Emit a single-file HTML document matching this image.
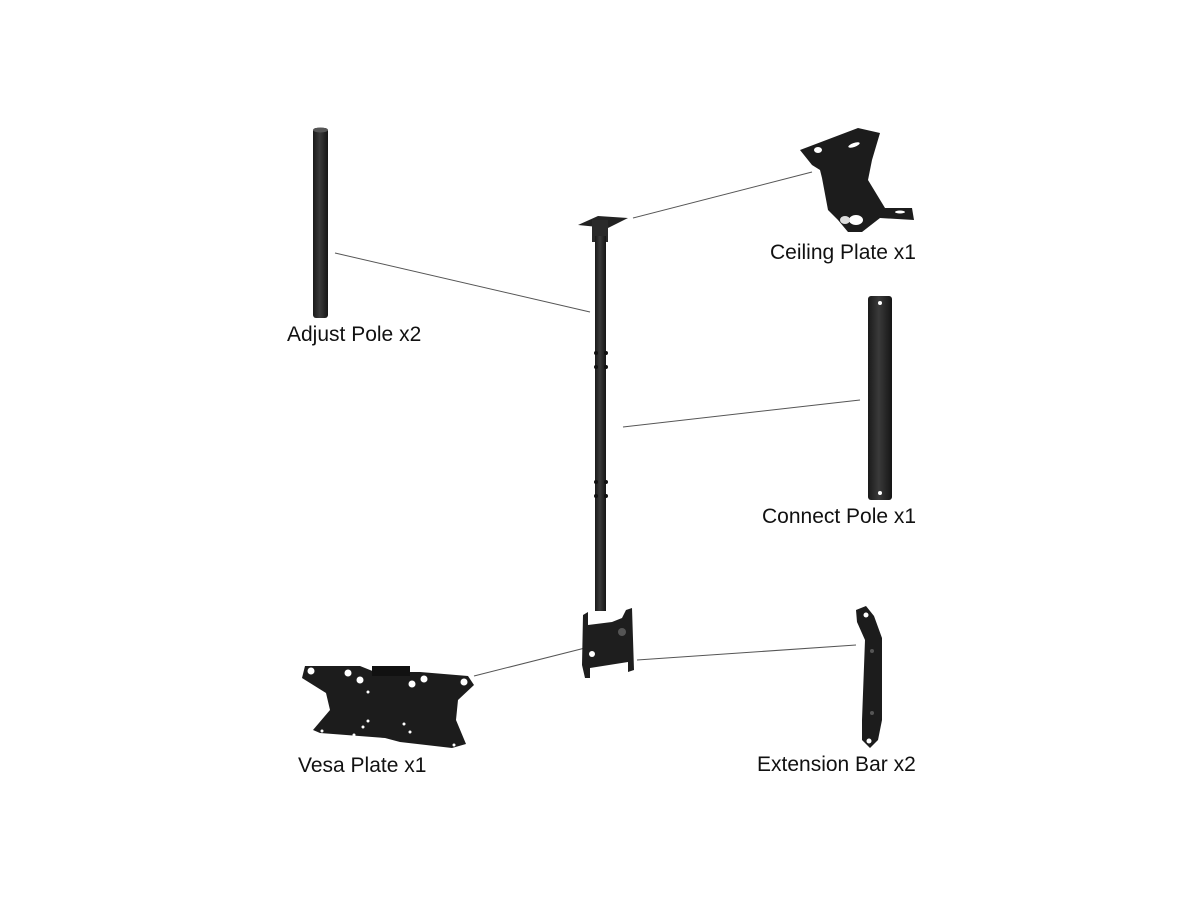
<!DOCTYPE html>
<html><head><meta charset="utf-8"><style>
html,body{margin:0;padding:0;background:#fff;}
svg{display:block;}
text{font-family:"Liberation Sans",sans-serif;font-size:21px;fill:#111;}
</style></head><body>
<svg width="1200" height="900" viewBox="0 0 1200 900" xmlns="http://www.w3.org/2000/svg">
<defs>
<linearGradient id="pg" x1="0" x2="1" y1="0" y2="0">
<stop offset="0" stop-color="#1a1a1a"/><stop offset="0.45" stop-color="#3a3a3a"/><stop offset="1" stop-color="#151515"/>
</linearGradient>
</defs>
<g stroke="#555" stroke-width="1" fill="none">
<line x1="335" y1="253" x2="590" y2="312"/>
<line x1="633" y1="218" x2="812" y2="172"/>
<line x1="623" y1="427" x2="860" y2="400"/>
<line x1="474" y1="676" x2="585" y2="648"/>
<line x1="637" y1="660" x2="856" y2="645"/>
</g>
<rect x="313" y="128" width="15" height="190" rx="3" fill="url(#pg)"/>
<ellipse cx="320.5" cy="130" rx="7.5" ry="2.5" fill="#555"/>
<polygon points="578,225 598,216 628,218 608,228" fill="#222"/>
<rect x="592" y="220" width="16" height="22" fill="#2a2a2a"/>
<rect x="595" y="236" width="11" height="375" fill="url(#pg)"/>
<g fill="#111">
<circle cx="596" cy="353" r="2"/><circle cx="606" cy="353" r="2"/>
<circle cx="596" cy="367" r="2"/><circle cx="606" cy="367" r="2"/>
<circle cx="596" cy="482" r="2"/><circle cx="606" cy="482" r="2"/>
<circle cx="596" cy="496" r="2"/><circle cx="606" cy="496" r="2"/>
</g>
<polygon points="583,615 588,612 588,625 612,622 622,618 626,610 632,608 634,670 628,672 628,662 590,668 590,678 585,678 582,665" fill="#1e1e1e"/>
<circle cx="592" cy="654" r="3" fill="#fff"/>
<circle cx="622" cy="632" r="4" fill="#555"/>
<polygon points="800,150 858,128 880,133 872,160 868,180 885,208 912,208 914,220 880,218 862,232 848,232 838,220 828,210 822,178 820,170 812,165" fill="#1c1c1c"/>
<ellipse cx="818" cy="150" rx="4" ry="3" fill="#fff"/>
<ellipse cx="854" cy="145" rx="6" ry="2" fill="#fff" transform="rotate(-20 854 145)"/>
<ellipse cx="856" cy="220" rx="7" ry="5" fill="#fff"/>
<ellipse cx="845" cy="220" rx="5" ry="4" fill="#ddd"/>
<ellipse cx="900" cy="212" rx="5" ry="1.5" fill="#fff"/>
<rect x="868" y="296" width="24" height="204" rx="3" fill="url(#pg)"/>
<circle cx="880" cy="303" r="2" fill="#fff"/>
<circle cx="880" cy="493" r="2" fill="#fff"/>
<polygon points="856,610 866,606 874,616 882,638 882,720 878,740 870,748 862,740 862,720 865,640 857,622" fill="#1c1c1c"/>
<circle cx="866" cy="615" r="2.5" fill="#fff"/>
<circle cx="869" cy="741" r="2.5" fill="#fff"/>
<circle cx="872" cy="651" r="2" fill="#555"/>
<circle cx="872" cy="713" r="2" fill="#555"/>
<polygon points="305,666 360,666 375,672 420,672 468,676 474,685 458,700 456,720 466,744 452,748 400,742 385,738 320,733 313,730 330,710 326,693 302,678" fill="#1c1c1c"/>
<rect x="372" y="666" width="38" height="10" fill="#111"/>
<g fill="#fff">
<circle cx="311" cy="671" r="3.5"/><circle cx="348" cy="673" r="3.5"/><circle cx="360" cy="680" r="3.5"/>
<circle cx="412" cy="684" r="3.5"/><circle cx="424" cy="679" r="3.5"/><circle cx="464" cy="682" r="3.5"/>
<circle cx="368" cy="692" r="1.5"/><circle cx="368" cy="721" r="1.5"/><circle cx="363" cy="727" r="1.5"/>
<circle cx="404" cy="724" r="1.5"/><circle cx="410" cy="732" r="1.5"/><circle cx="454" cy="745" r="1.5"/>
<circle cx="322" cy="731" r="1.5"/><circle cx="354" cy="735" r="1.5"/>
</g>
<text x="287" y="341">Adjust Pole x2</text>
<text x="770" y="259">Ceiling Plate x1</text>
<text x="762" y="523">Connect Pole x1</text>
<text x="298" y="772">Vesa Plate x1</text>
<text x="757" y="771">Extension Bar x2</text>
</svg>
</body></html>
